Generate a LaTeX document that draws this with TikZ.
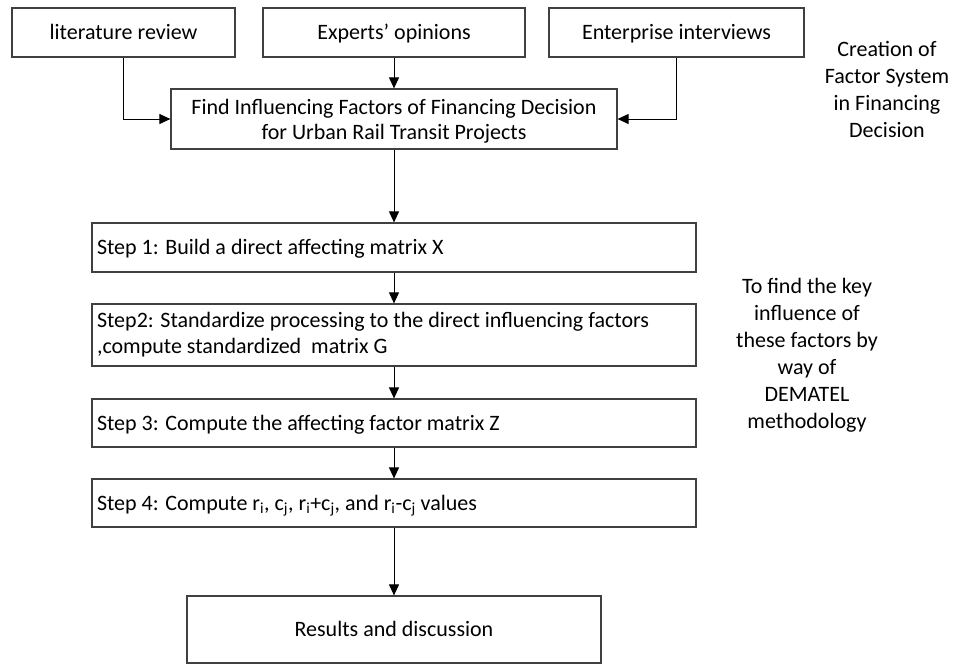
\documentclass[tikz,border=0pt]{standalone}
\usepackage{fontspec}
\setmainfont{Carlito}
\usepackage{xcolor}
\usepackage{tikz}
\usetikzlibrary{arrows.meta}
\definecolor{edge}{HTML}{404040}
\tikzset{
  flowBox/.style={draw=edge, line width=1.2pt, inner sep=0pt, text height=16.5pt, text depth=2pt,
    font=\fontsize{22}{26}\selectfont},
  stepBox/.style={flowBox, minimum width=604pt, text width=594pt, align=flush left},
  flowArrow/.style={draw=black, line width=1pt, -{Triangle[length=11pt,width=10pt]}},
  sideText/.style={align=center, font=\fontsize{22}{27}\selectfont}
}

\begin{document}
\begin{tikzpicture}[x=1pt, y=-1pt]
  \useasboundingbox (0,0) rectangle (954,664);

  % sources
  \node[flowBox, minimum width=223pt, minimum height=49pt] (lit) at (123.5,32.5) {literature review};
  \node[flowBox, minimum width=262pt, minimum height=49pt] (experts) at (394,32.5) {Experts’ opinions};
  \node[flowBox, minimum width=255pt, minimum height=49pt] (enterprise) at (676.5,32.5) {Enterprise interviews};

  \node[flowBox, minimum width=446pt, minimum height=60pt, text height=, text depth=, inner sep=4pt,
    align=center, font=\fontsize{22}{25}\selectfont] (find) at (394,119)
    {\rule{0pt}{20pt}Find Influencing Factors of Financing Decision\\for Urban Rail Transit Projects};

  % DEMATEL steps
  \node[stepBox, minimum height=49pt] (step1) at (394,247.5) {Step 1: Build a direct affecting matrix X};
  \node[stepBox, minimum height=62pt, text height=, text depth=, inner ysep=4pt] (step2) at (394,335)
    {Step2: Standardize processing to the direct influencing factors\\,compute standardized\ \ matrix G};
  \node[stepBox, minimum height=48pt] (step3) at (394,423) {Step 3: Compute the affecting factor matrix Z};
  \node[stepBox, minimum height=48pt] (step4) at (394,503)
    {Step 4: Compute r\textsubscript{i}, c\textsubscript{j}, r\textsubscript{i}+c\textsubscript{j}, and r\textsubscript{i}-c\textsubscript{j} values};

  \node[flowBox, minimum width=414pt, minimum height=67pt] (results) at (394,629.5) {Results and discussion};

  % notes on the right
  \node[sideText] (creation) at (887,89) {Creation of\\Factor System\\in Financing\\Decision};
  \node[sideText] (dematel) at (807,355) {To find the key\\influence of\\these factors by\\way of\\DEMATEL\\methodology};

  % connectors
  \draw[flowArrow] (lit.south) |- (find.west);
  \draw[flowArrow] (experts.south) -- (find.north);
  \draw[flowArrow] (enterprise.south) |- (find.east);
  \draw[flowArrow] (find.south) -- (step1.north);
  \draw[flowArrow] (step1.south) -- (step2.north);
  \draw[flowArrow] (step2.south) -- (step3.north);
  \draw[flowArrow] (step3.south) -- (step4.north);
  \draw[flowArrow] (step4.south) -- (results.north);
\end{tikzpicture}
\end{document}
